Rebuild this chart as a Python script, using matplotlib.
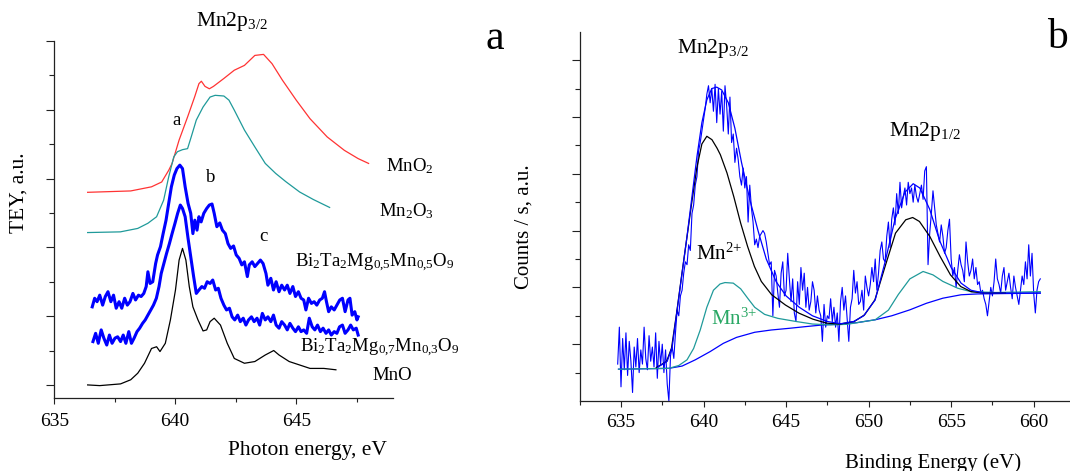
import numpy as np
import matplotlib
matplotlib.use("Agg")
import matplotlib.pyplot as plt

plt.rcParams['font.family'] = 'Liberation Serif'
plt.rcParams['mathtext.fontset'] = 'custom'
plt.rcParams['mathtext.rm'] = 'Liberation Serif'
plt.rcParams['mathtext.it'] = 'Liberation Serif:italic'
plt.rcParams['mathtext.default'] = 'rm'

# ---------------- (a) Mn L3 edge, TEY (curves stacked with offsets) ----------------
mno2_ev = [636.38, 638.16, 639.02, 639.44, 639.73, 639.87, 640.16, 640.51, 640.80, 640.98,
           641.08, 641.23, 641.41, 641.58, 642.01, 642.44, 642.86, 643.29, 643.65, 644.00,
           644.43, 645.00, 645.57, 646.28, 646.99, 647.56, 647.99]
mno2_tey = [5.60, 5.64, 5.76, 5.90, 6.24, 6.44, 7.12, 7.79, 8.37, 8.76,
            8.83, 8.68, 8.61, 8.68, 8.91, 9.15, 9.29, 9.58, 9.61, 9.34,
            8.86, 8.28, 7.74, 7.21, 6.82, 6.58, 6.44]

mn2o3_ev = [636.38, 637.73, 638.45, 638.87, 639.23, 639.52, 639.73, 639.94, 640.09, 640.30,
            640.51, 640.66, 640.87, 641.15, 641.44, 641.65, 642.01, 642.22, 642.44, 642.86,
            643.29, 643.72, 644.15, 644.57, 645.14, 645.71, 646.38]
mn2o3_tey = [4.43, 4.45, 4.55, 4.70, 4.89, 5.37, 6.05, 6.63, 6.78, 6.84,
             6.87, 7.21, 7.70, 8.08, 8.37, 8.42, 8.40, 8.28, 7.99, 7.41,
             6.92, 6.44, 6.15, 5.91, 5.61, 5.39, 5.16]

mno_ev = [636.38, 636.88, 637.74, 638.16, 638.45, 638.73, 639.02, 639.23, 639.37, 639.59,
          639.80, 640.01, 640.16, 640.30, 640.44, 640.58, 640.73, 640.94, 641.15, 641.30,
          641.44, 641.61, 641.87, 642.15, 642.44, 642.86, 643.29, 643.72, 644.07, 644.29,
          644.71, 645.14, 645.57, 646.14, 646.64]
mno_tey = [0.00, -0.02, 0.03, 0.15, 0.34, 0.63, 1.06, 1.11, 0.97, 1.21,
           1.89, 2.76, 3.63, 3.97, 3.63, 2.86, 2.27, 1.89, 1.57, 1.60,
           1.84, 1.94, 1.74, 1.21, 0.77, 0.63, 0.68, 0.87, 1.00, 0.87,
           0.68, 0.58, 0.48, 0.48, 0.44]

btmm05_ev = [636.57, 636.67, 636.77, 636.88, 637.00, 637.11, 637.22, 637.34, 637.45, 637.56,
             637.68, 637.79, 637.91, 638.02, 638.13, 638.25, 638.36, 638.48, 638.59, 638.70,
             638.80, 638.87, 638.96, 639.07, 639.19, 639.27, 639.39, 639.50, 639.62, 639.73,
             639.84, 639.96, 640.07, 640.19, 640.30, 640.41, 640.53, 640.64, 640.73, 640.81,
             640.90, 640.98, 641.07, 641.18, 641.30, 641.41, 641.52, 641.61, 641.72, 641.84,
             641.95, 642.07, 642.18, 642.29, 642.41, 642.52, 642.64, 642.75, 642.86, 642.98,
             643.06, 643.18, 643.29, 643.40, 643.52, 643.63, 643.75, 643.83, 643.95, 644.06,
             644.17, 644.29, 644.40, 644.52, 644.63, 644.74, 644.86, 644.97, 645.09, 645.20,
             645.31, 645.40, 645.51, 645.63, 645.74, 645.85, 645.97, 646.08, 646.17, 646.25,
             646.34, 646.45, 646.57, 646.68, 646.80, 646.91, 647.02, 647.14, 647.22, 647.31,
             647.42, 647.51, 647.56]
btmm05_tey = [2.27, 2.52, 2.42, 2.61, 2.32, 2.57, 2.71, 2.42, 2.61, 2.23,
              2.42, 2.23, 2.52, 2.32, 2.42, 2.66, 2.47, 2.61, 2.57, 2.66,
              2.86, 3.29, 2.95, 3.00, 3.53, 3.78, 4.02, 4.40, 4.79, 5.28,
              5.76, 6.10, 6.29, 6.39, 6.29, 5.76, 5.28, 4.99, 4.40, 4.79,
              4.50, 4.89, 4.74, 4.99, 5.13, 5.23, 5.26, 4.99, 4.60, 4.71,
              4.50, 4.40, 4.11, 3.97, 4.04, 3.78, 3.68, 3.49, 3.58, 3.15,
              3.49, 3.58, 3.44, 3.53, 3.63, 3.53, 3.24, 2.90, 3.10, 2.76,
              3.00, 2.71, 2.90, 2.76, 2.90, 2.66, 2.86, 2.57, 2.71, 2.52,
              2.47, 2.18, 2.52, 2.37, 2.42, 2.32, 2.47, 2.52, 2.71, 2.42,
              2.13, 2.27, 2.18, 2.32, 2.47, 2.52, 2.13, 2.47, 2.52, 2.03,
              2.13, 1.89, 1.98]

btmm07_ev = [636.60, 636.71, 636.82, 636.94, 637.05, 637.17, 637.28, 637.39, 637.51, 637.62,
             637.74, 637.85, 637.96, 638.08, 638.19, 638.30, 638.42, 638.53, 638.65, 638.76,
             638.87, 638.99, 639.10, 639.22, 639.33, 639.42, 639.53, 639.64, 639.76, 639.87,
             639.99, 640.10, 640.21, 640.30, 640.41, 640.53, 640.64, 640.76, 640.87, 640.98,
             641.10, 641.21, 641.32, 641.44, 641.55, 641.67, 641.78, 641.89, 642.01, 642.12,
             642.24, 642.35, 642.46, 642.58, 642.69, 642.81, 642.92, 643.03, 643.15, 643.26,
             643.38, 643.49, 643.60, 643.72, 643.83, 643.95, 644.06, 644.17, 644.29, 644.40,
             644.52, 644.63, 644.74, 644.86, 644.97, 645.09, 645.20, 645.31, 645.43, 645.54,
             645.66, 645.77, 645.88, 646.00, 646.11, 646.23, 646.34, 646.45, 646.57, 646.68,
             646.79, 646.91, 647.02, 647.14, 647.25, 647.36, 647.48, 647.56]
btmm07_tey = [1.26, 1.50, 1.21, 1.60, 1.36, 1.16, 1.45, 1.21, 1.36, 1.40,
              1.26, 1.45, 1.21, 1.55, 1.21, 1.36, 1.55, 1.65, 1.79, 1.89,
              2.03, 2.18, 2.32, 2.52, 2.86, 3.24, 3.53, 3.82, 4.11, 4.40,
              4.70, 4.99, 5.23, 5.13, 4.89, 4.26, 3.73, 3.15, 2.66, 2.76,
              2.86, 2.81, 3.00, 2.95, 3.05, 2.76, 2.81, 2.52, 2.32, 2.18,
              2.23, 1.98, 1.89, 2.03, 1.84, 1.94, 1.74, 1.89, 1.98, 1.84,
              1.94, 1.74, 2.08, 1.89, 1.98, 1.84, 2.03, 1.74, 1.65, 1.84,
              1.74, 1.60, 1.79, 1.65, 1.55, 1.69, 1.55, 1.60, 1.50, 1.94,
              1.69, 1.60, 1.74, 1.55, 1.65, 1.50, 1.60, 1.45, 1.55, 1.50,
              1.69, 1.74, 1.50, 1.60, 1.74, 1.60, 1.65, 1.45]

# ---------------- (b) Mn 2p XPS with component fit ----------------
# raw counts on a 0.1 eV grid starting at 634.8 eV, one row per eV
xps_start, xps_step = 634.8, 0.1
xps_counts = [1.3, 2.6, 0.5, 2.2, 1.1, 2.4, 0.9, 2.1, 1.4, 0.3,
              1.9, 1.2, 2.2, 1.0, 1.8, 1.3, 2.6, 1.5, 1.1, 2.3,
              1.4, 1.9, 1.2, 2.4, 0.8, 2.1, 1.3, 2.0, 1.0, 1.8,
              0.6, 0.0, 1.6, 1.9, 1.5, 2.4, 3.2, 3.0, 3.7, 3.9,
              4.5, 4.9, 4.8, 5.5, 5.3, 6.6, 6.9, 7.6, 7.9, 8.8,
              9.1, 9.5, 9.9, 10.3, 10.8, 11.1, 10.5, 11.0, 10.2, 11.15,
              9.8, 11.0, 10.1, 10.9, 9.5, 11.1, 10.4, 9.4, 10.7, 9.1,
              9.4, 8.4, 8.9, 8.5, 7.9, 7.6, 8.2, 7.5, 7.9, 6.3,
              7.6, 6.8, 6.3, 5.5, 5.7, 5.4, 5.8, 5.9, 6.0, 5.9,
              5.6, 5.2, 4.8, 4.9, 3.0, 4.6, 4.4, 3.8, 3.3, 4.5,
              4.9, 3.7, 3.9, 5.2, 4.3, 3.5, 4.3, 3.1, 2.8, 4.2,
              3.4, 4.7, 3.9, 4.5, 3.3, 4.0, 3.2, 3.5, 4.2, 3.9,
              3.1, 3.7, 3.2, 3.0, 2.1, 3.4, 2.6, 3.0, 2.9, 3.6,
              2.8, 3.3, 2.6, 3.1, 2.1, 3.5, 4.0, 3.2, 3.7, 2.9,
              2.1, 3.3, 3.6, 4.6, 3.8, 4.2, 3.4, 3.5, 3.9, 3.2,
              4.4, 4.0, 3.7, 4.1, 4.7, 4.2, 5.0, 3.9, 4.5, 5.3,
              5.6, 5.0, 4.9, 5.8, 6.3, 5.4, 6.4, 6.8, 6.2, 7.3,
              6.6, 7.7, 6.8, 7.2, 7.5, 6.9, 7.7, 7.3, 7.5, 7.0,
              7.6, 7.2, 7.0, 7.3, 7.6, 7.1, 8.1, 8.25, 4.8, 5.9,
              6.6, 7.4, 6.8, 6.2, 5.9, 5.6, 6.2, 5.8, 5.2, 5.4,
              6.0, 6.4, 5.0, 4.4, 4.7, 4.0, 4.6, 5.15, 4.8, 4.6,
              4.2, 5.6, 4.9, 4.4, 4.6, 5.0, 4.3, 4.7, 4.1, 4.2,
              3.8, 3.9, 3.6, 3.4, 3.0, 3.5, 4.0, 3.7, 4.2, 5.0,
              4.3, 4.1, 3.8, 4.4, 4.7, 3.9, 4.2, 4.5, 4.0, 3.6,
              4.4, 4.0, 3.7, 3.4, 3.9, 4.4, 4.1, 4.9, 4.3, 5.5,
              4.4, 5.2, 3.8, 3.1, 3.9, 4.2, 4.3]
xps_be = xps_start + xps_step * np.arange(len(xps_counts))

mn2_be = [637.14, 637.76, 638.06, 638.37, 638.67, 638.98, 639.29, 639.59, 639.90, 640.20,
          640.51, 640.82, 641.02, 641.42, 641.83, 642.25, 642.67, 643.08, 643.50, 644.13,
          644.96, 645.79, 646.63, 647.46, 648.29, 649.13, 649.75, 650.38, 651.00, 651.63,
          652.25, 652.67, 653.08, 653.71, 654.33, 654.96, 655.58, 656.21, 657.04, 658.29]
mn2_fit = [1.18, 1.39, 1.86, 3.10, 4.40, 5.70, 7.00, 8.20, 9.05, 9.32,
           9.20, 8.90, 8.67, 8.03, 7.20, 6.26, 5.44, 4.74, 4.21, 3.74,
           3.38, 3.09, 2.88, 2.74, 2.71, 2.80, 3.03, 3.56, 4.74, 5.91,
           6.38, 6.46, 6.32, 5.79, 5.09, 4.44, 4.03, 3.85, 3.80, 3.80]

mn3_be = [634.85, 637.90, 638.50, 639.00, 639.40, 639.80, 640.20, 640.60, 641.00, 641.30,
          641.80, 642.25, 642.70, 643.10, 643.70, 644.50, 645.60, 646.60, 647.70, 648.70,
          649.75, 650.40, 651.20, 651.80, 652.50, 653.30, 653.90, 654.50, 655.40, 656.20,
          657.70, 660.40]
mn3_fit = [1.12, 1.15, 1.25, 1.45, 1.85, 2.50, 3.30, 3.90, 4.12, 4.17,
           4.15, 3.95, 3.60, 3.30, 3.05, 2.91, 2.80, 2.71, 2.68, 2.70,
           2.80, 2.86, 3.20, 3.75, 4.30, 4.56, 4.44, 4.21, 3.97, 3.85,
           3.82, 3.85]

bg_be = [634.85, 637.90, 638.70, 639.50, 640.40, 641.20, 642.00, 643.10, 644.10, 645.20,
         646.20, 647.25, 648.30, 649.30, 650.40, 651.40, 652.50, 653.50, 654.50, 655.60,
         656.60, 660.40]
bg_fit = [1.12, 1.15, 1.23, 1.45, 1.74, 2.03, 2.24, 2.42, 2.50, 2.56,
          2.62, 2.68, 2.71, 2.76, 2.86, 3.00, 3.21, 3.44, 3.62, 3.74,
          3.77, 3.80]

env_be = [637.20, 637.80, 638.10, 638.40, 638.70, 639.00, 639.30, 639.60, 639.90, 640.20,
          640.50, 640.80, 641.10, 641.50, 641.90, 642.30, 642.80, 643.30, 643.80, 644.40,
          645.00, 645.80, 646.60, 647.50, 648.30, 649.10, 649.70, 650.40, 651.00, 651.60,
          652.20, 652.70, 653.10, 653.70, 654.30, 655.00, 655.60, 656.20, 657.00, 660.40]
env_fit = [1.18, 1.40, 1.90, 3.20, 4.50, 5.80, 7.20, 8.60, 9.80, 10.60,
           11.00, 11.05, 10.95, 10.50, 9.60, 8.40, 7.10, 6.00, 5.00, 4.20,
           3.70, 3.30, 3.00, 2.80, 2.72, 2.80, 3.00, 3.56, 4.90, 6.40,
           7.35, 7.65, 7.50, 6.75, 5.65, 4.70, 4.15, 3.90, 3.80, 3.80]

RED = '#ff3333'
TEAL = '#1f9a9a'
BLUE = '#0000ff'
GREEN_TXT = '#2aa865'

fig = plt.figure(figsize=(10.70, 4.71), dpi=100)
ax1 = fig.add_axes([0.0507, 0.155, 0.3166, 0.758])
ax2 = fig.add_axes([0.5418, 0.1486, 0.4582, 0.784])


def style_axes(ax, pad_x):
    for side in ('top', 'right'):
        ax.spines[side].set_visible(False)
    for side in ('left', 'bottom'):
        ax.spines[side].set_linewidth(0.9)
        ax.spines[side].set_color('#222222')
    ax.tick_params(axis='x', which='major', direction='out', length=4.5, width=0.8,
                   labelsize=14, pad=pad_x, color='#222222')
    ax.tick_params(axis='x', which='minor', direction='out', length=3, width=0.8,
                   color='#222222')
    ax.tick_params(axis='y', which='major', direction='out', length=5.5, width=0.8,
                   labelleft=False, color='#222222')
    ax.tick_params(axis='y', which='minor', direction='out', length=3.3, width=0.8,
                   color='#222222')


# panel (a)
ax1.plot(mno2_ev, mno2_tey, color=RED, lw=0.9)
ax1.plot(mn2o3_ev, mn2o3_tey, color=TEAL, lw=0.9)
ax1.plot(btmm05_ev, btmm05_tey, color=BLUE, lw=2.2)
ax1.plot(btmm07_ev, btmm07_tey, color=BLUE, lw=2.2)
ax1.plot(mno_ev, mno_tey, color='black', lw=0.9)

ax1.set_xlim(635, 649)
ax1.set_ylim(-0.38, 10)
ax1.set_xticks([635, 640, 645])
ax1.set_xticks([637.5, 642.5, 647.5], minor=True)
ax1.set_yticks([0, 2, 4, 6, 8, 10])
ax1.set_yticks([1, 3, 5, 7, 9], minor=True)
style_axes(ax1, 6)

lbl = 13.5
ax1.text(640.87, 10.43, r'Mn2p$_{3/2}$', fontsize=15.5, ha='left', va='baseline')
ax1.text(652.83, 9.78, 'a', fontsize=30, ha='left', va='baseline')
ax1.text(640.04, 7.70, 'a', fontsize=lbl, ha='center', va='center')
ax1.text(641.47, 6.03, 'b', fontsize=lbl, ha='center', va='center')
ax1.text(643.65, 4.31, 'c', fontsize=lbl, ha='center', va='center')
ax1.text(648.73, 6.20, r'MnO$_2$', fontsize=lbl, ha='left', va='baseline')
ax1.text(648.42, 4.89, r'Mn$_2$O$_3$', fontsize=lbl, ha='left', va='baseline')
ax1.text(644.93, 3.44, r'Bi$_2$Ta$_2$Mg$_{0{,}5}$Mn$_{0{,}5}$O$_9$',
         fontsize=lbl, ha='left', va='baseline')
ax1.text(645.14, 0.97, r'Bi$_2$Ta$_2$Mg$_{0{,}7}$Mn$_{0{,}3}$O$_9$',
         fontsize=lbl, ha='left', va='baseline')
ax1.text(648.13, 0.15, 'MnO', fontsize=lbl, ha='left', va='baseline')

# panel (b)
ax2.plot(xps_be, xps_counts, color=BLUE, lw=0.8)
ax2.plot(bg_be, bg_fit, color=BLUE, lw=0.9)
ax2.plot(mn3_be, mn3_fit, color=TEAL, lw=0.9)
ax2.plot(mn2_be, mn2_fit, color='black', lw=0.9)
ax2.plot(env_be, env_fit, color=BLUE, lw=0.9)

ax2.set_xlim(632.5, 662.2)
ax2.set_ylim(0, 13)
ax2.set_xticks([635, 640, 645, 650, 655, 660])
ax2.set_xticks([632.5, 637.5, 642.5, 647.5, 652.5, 657.5], minor=True)
ax2.set_yticks([2, 4, 6, 8, 10, 12])
ax2.set_yticks([1, 3, 5, 7, 9, 11], minor=True)
style_axes(ax2, 4.7)

ax2.text(638.40, 12.26, r'Mn2p$_{3/2}$', fontsize=15.5, ha='left', va='baseline')
ax2.text(651.21, 9.32, r'Mn2p$_{1/2}$', fontsize=15.5, ha='left', va='baseline')
ax2.text(639.54, 4.97, r'Mn$^{2{+}}$', fontsize=15, ha='left', va='baseline')
ax2.text(640.48, 2.68, r'Mn$^{3{+}}$', fontsize=15, ha='left', va='baseline',
         color=GREEN_TXT)
ax2.text(660.8, 12.43, 'b', fontsize=30, ha='left', va='baseline')

fig.text(0.0178, 0.590, 'TEY, a.u.', rotation=90, fontsize=15.5, ha='center', va='center')
fig.text(0.287, 0.034, 'Photon energy, eV', fontsize=15.5, ha='center', va='baseline')
fig.text(0.4897, 0.518, 'Counts / s, a.u.', rotation=90, fontsize=15, ha='center', va='center')
fig.text(0.872, 0.0064, 'Binding Energy (eV)', fontsize=15, ha='center', va='baseline')

fig.savefig('out.png', dpi=100)
